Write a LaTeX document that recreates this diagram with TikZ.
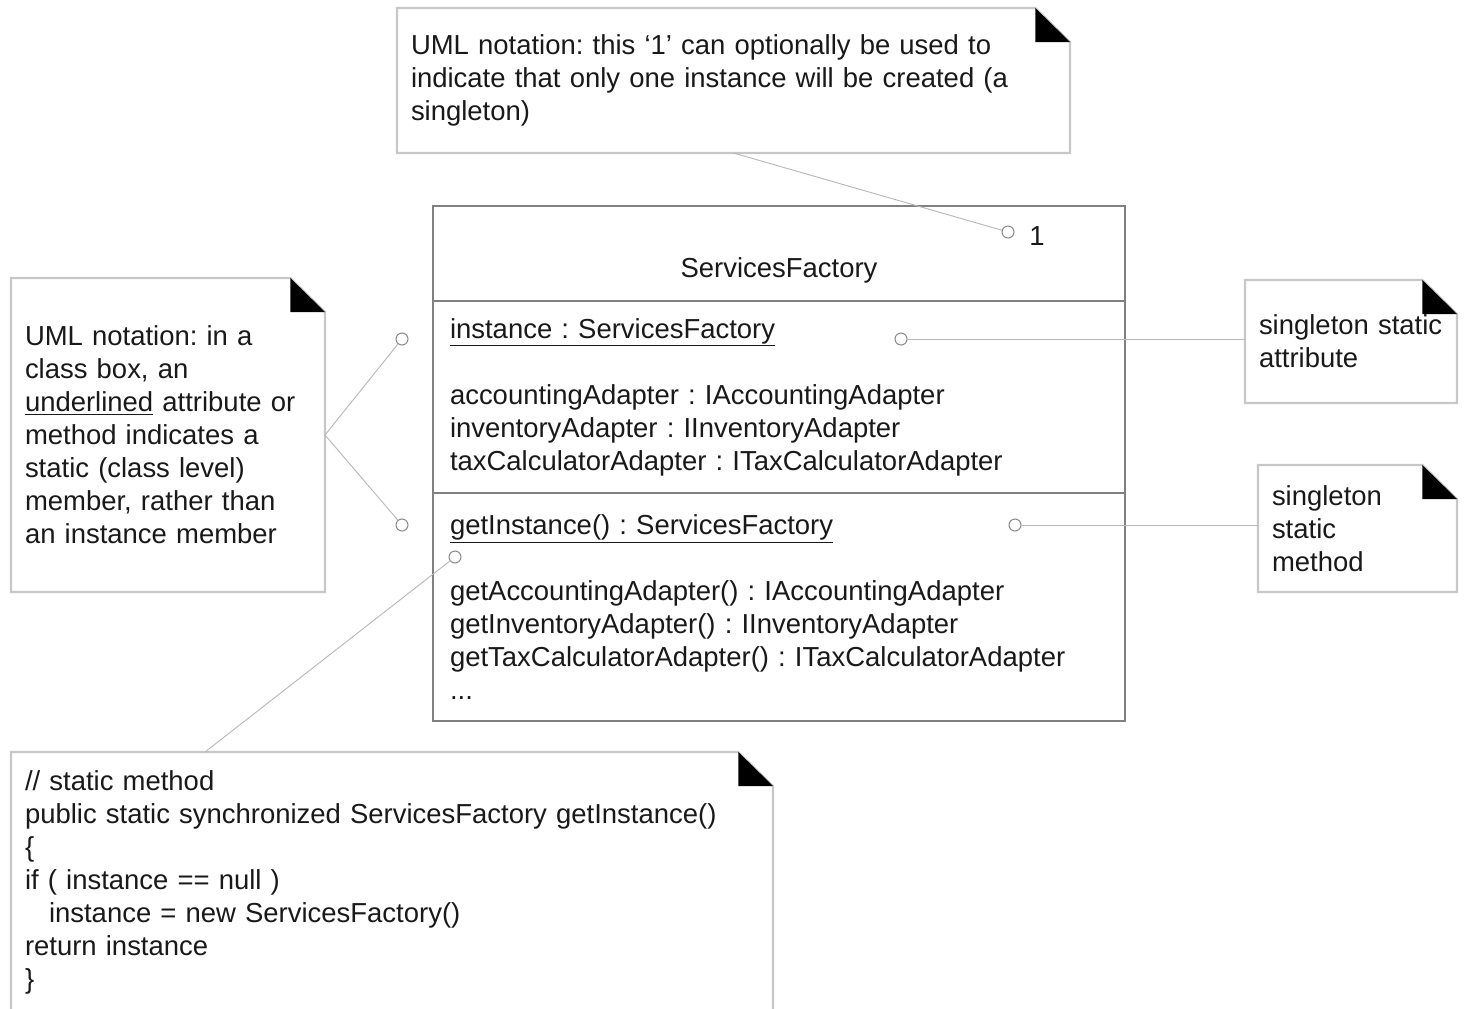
\documentclass[tikz,border=0pt]{standalone}
\usepackage{fontspec}
\setmainfont{Liberation Sans}
\usetikzlibrary{positioning}
\frenchspacing
\tikzstyle{note}=[rectangle,anchor=north west,align=left,inner xsep=10.5pt,inner ysep=0pt,outer sep=0pt,text=black!90]
\tikzstyle{compart}=[rectangle,draw=black!50,line width=1.1pt,inner xsep=12.75pt,inner ysep=0pt,outer sep=0pt,text width=493.5pt,align=left,text=black!90]
\tikzstyle{pin}=[circle,draw=black!45,fill=white,line width=0.8pt,minimum size=9pt,inner sep=0pt]
\tikzstyle{link}=[draw=black!28,line width=0.7pt]
\tikzstyle{noteline}=[draw=black!22,line width=1.6pt]
% folded corner of a note
\newcommand{\dogear}[1]{%
  \draw[noteline] (#1.north west) -- ([xshift=-26pt]#1.north east) -- ([yshift=-25.5pt]#1.north east) -- (#1.south east) -- (#1.south west) -- cycle;
  \fill[black] ([xshift=-26pt]#1.north east) -- ([xshift=-26pt,yshift=-25.5pt]#1.north east) -- ([yshift=-25.5pt]#1.north east) -- cycle;}

\begin{document}
\begin{tikzpicture}[x=0.75pt,y=-0.75pt,font=\fontsize{20.6pt}{24.75pt}\selectfont]
			\useasboundingbox (0,0) rectangle (1471,1008);

			% class box
			\node[compart,anchor=north west,align=center,minimum height=71.25pt,text height=40pt,text depth=4.5pt] (cName) at (433,206) {ServicesFactory};
			\node[compart,below=0pt of cName,minimum height=144pt] (cAttr) {\underline{instance : ServicesFactory}\\[24.75pt]accountingAdapter : IAccountingAdapter\\inventoryAdapter : IInventoryAdapter\\taxCalculatorAdapter : ITaxCalculatorAdapter};
			\node[compart,below=0pt of cAttr,minimum height=171pt] (cMeth) {\underline{getInstance() : ServicesFactory}\\[24.75pt]getAccountingAdapter() : IAccountingAdapter\\getInventoryAdapter() : IInventoryAdapter\\getTaxCalculatorAdapter() : ITaxCalculatorAdapter\\...};

			% notes
			\node[note,text width=483.75pt,minimum height=108.75pt] (nTop) at (397,8) {UML notation: this `1' can optionally be used to\\indicate that only one instance will be created (a\\singleton)};
			\node[note,text width=214.5pt,minimum height=235.5pt] (nLeft) at (11,278) {UML notation: in a\\class box, an\\\underline{underlined} attribute or\\method indicates a\\static (class level)\\member, rather than\\an instance member};
			\node[note,text width=138pt,minimum height=92.25pt] (nAttr) at (1245,280) {singleton~static\\attribute};
			\node[note,text width=128.25pt,minimum height=95.25pt] (nMeth) at (1258,465) {singleton\\static\\method};
			\node[note,text width=550.5pt,minimum height=195pt] (nCode) at (11,752) {// static method\\public static synchronized ServicesFactory getInstance()\\\{\\if ( instance == null )\\\hspace*{18pt}instance = new ServicesFactory()\\return instance\\\}};
			\dogear{nTop}
			\dogear{nLeft}
			\dogear{nAttr}
			\dogear{nMeth}
			\dogear{nCode}

			% anchor circles
			\node[pin] (o1) at (402,339) {};
			\node[pin] (o2) at (402,525) {};
			\node[pin] (o3) at (901,339) {};
			\node[pin] (o4) at (1015,525) {};
			\node[pin] (o5) at (455,557) {};
			\node[pin] (o6) at (1008,232) {};
			\node[inner sep=0pt,right=11pt of o6,yshift=-3pt,text=black!90] (mult) {1};

			% note links
			\path[link] (nLeft.east) edge (o1) edge (o2);
			\path[link] (o3) edge (o3 -| nAttr.west);
			\path[link] (o4) edge (o4 -| nMeth.west);
			\path[link] (nTop.south) edge (o6);
			\path[link] ([xshift=145.5pt]nCode.north west) edge (o5);
\end{tikzpicture}
\end{document}
